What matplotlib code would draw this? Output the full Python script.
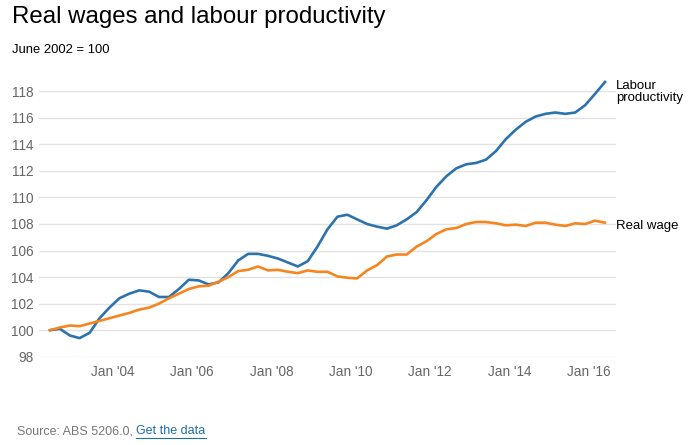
import numpy as np
import pandas as pd
import matplotlib
matplotlib.use('Agg')
import matplotlib.pyplot as plt
import matplotlib.dates as mdates

plt.rcParams['font.family'] = ['Liberation Sans', 'DejaVu Sans']

# quarterly, June 2002 = 100
dates = pd.date_range('2002-06-01', periods=57, freq='3MS')

productivity = [
    100.0, 100.1, 99.6, 99.4, 99.8, 100.9, 101.7, 102.4, 102.75, 103.0,
    102.9, 102.5, 102.5, 103.1, 103.8, 103.75, 103.45, 103.6, 104.3, 105.25,
    105.75, 105.75, 105.6, 105.4, 105.1, 104.8, 105.2, 106.3, 107.6, 108.55,
    108.7, 108.35, 108.0, 107.8, 107.65, 107.9, 108.35, 108.9, 109.8, 110.8,
    111.6, 112.2, 112.5, 112.6, 112.85, 113.5, 114.4, 115.1, 115.7, 116.1,
    116.3, 116.4, 116.3, 116.4, 116.95, 117.8, 118.7,
]

real_wage = [
    100.0, 100.2, 100.35, 100.3, 100.5, 100.7, 100.9, 101.1, 101.3, 101.55,
    101.7, 102.0, 102.4, 102.75, 103.1, 103.3, 103.35, 103.65, 104.0, 104.45,
    104.55, 104.8, 104.5, 104.55, 104.4, 104.3, 104.5, 104.4, 104.4, 104.05,
    103.95, 103.9, 104.5, 104.9, 105.55, 105.7, 105.7, 106.3, 106.7, 107.25,
    107.6, 107.7, 108.0, 108.15, 108.15, 108.05, 107.9, 107.95, 107.85, 108.1,
    108.1, 107.95, 107.85, 108.05, 108.0, 108.25, 108.1,
]

y_ticks = np.arange(98, 119, 2)

blue = '#2c73ae'
orange = '#f5861f'
grey = '#666666'

fig = plt.figure(figsize=(6.97, 4.45), dpi=100)
ax = fig.add_axes([0.056, 0.1984, 0.828, 0.6412])

ax.plot(dates, productivity, color=blue, lw=1.9, solid_joinstyle='round', zorder=3)
ax.plot(dates, real_wage, color=orange, lw=1.9, solid_joinstyle='round', zorder=3)

ax.set_ylim(98, 119.5)
ax.set_yticks(y_ticks)
ax.set_xlim(pd.Timestamp('2002-02-20'), pd.Timestamp('2016-09-12'))
ax.xaxis.set_major_locator(mdates.YearLocator(2, month=1, day=1))
ax.xaxis.set_major_formatter(mdates.DateFormatter("Jan '%y"))

ax.grid(axis='y', color='#e3e3e3', lw=1)
ax.set_axisbelow(True)
for s in ax.spines.values():
    s.set_visible(False)
ax.tick_params(axis='both', length=0, labelsize=9.8, labelcolor=grey)
ax.tick_params(axis='y', pad=4)
ax.tick_params(axis='x', pad=6)

# series labels on the right
fig.text(616 / 697, 1 - 92 / 445, 'Labour\nproductivity', fontsize=9.5,
         color='black', va='center', ha='left', linespacing=1.05)
fig.text(616 / 697, 1 - 226 / 445, 'Real wage', fontsize=9.5,
         color='black', va='center', ha='left')

fig.text(12 / 697, 1 - 17 / 445, 'Real wages and labour productivity',
         fontsize=17.3, color='black', va='center', ha='left')
fig.text(12 / 697, 1 - 50 / 445, 'June 2002 = 100', fontsize=9.4,
         color='black', va='center', ha='left')

src = fig.text(17 / 697, 1 - 431 / 445, 'Source: ABS 5206.0, ', fontsize=9,
               color='#777777', va='center', ha='left')
fig.canvas.draw()
bb = src.get_window_extent()
link_x = bb.x1 / fig.bbox.width
link = fig.text(link_x, 1 - 431 / 445, 'Get the data', fontsize=9,
                color='#1f6fa8', va='center', ha='left')
fig.canvas.draw()
lb = link.get_window_extent()
# underline for the link
uy = (lb.y0 - 0.5) / fig.bbox.height
fig.add_artist(plt.Line2D([lb.x0 / fig.bbox.width, lb.x1 / fig.bbox.width],
                          [uy, uy], color='#1f6fa8', lw=0.8))

fig.savefig('out.png', dpi=100)
